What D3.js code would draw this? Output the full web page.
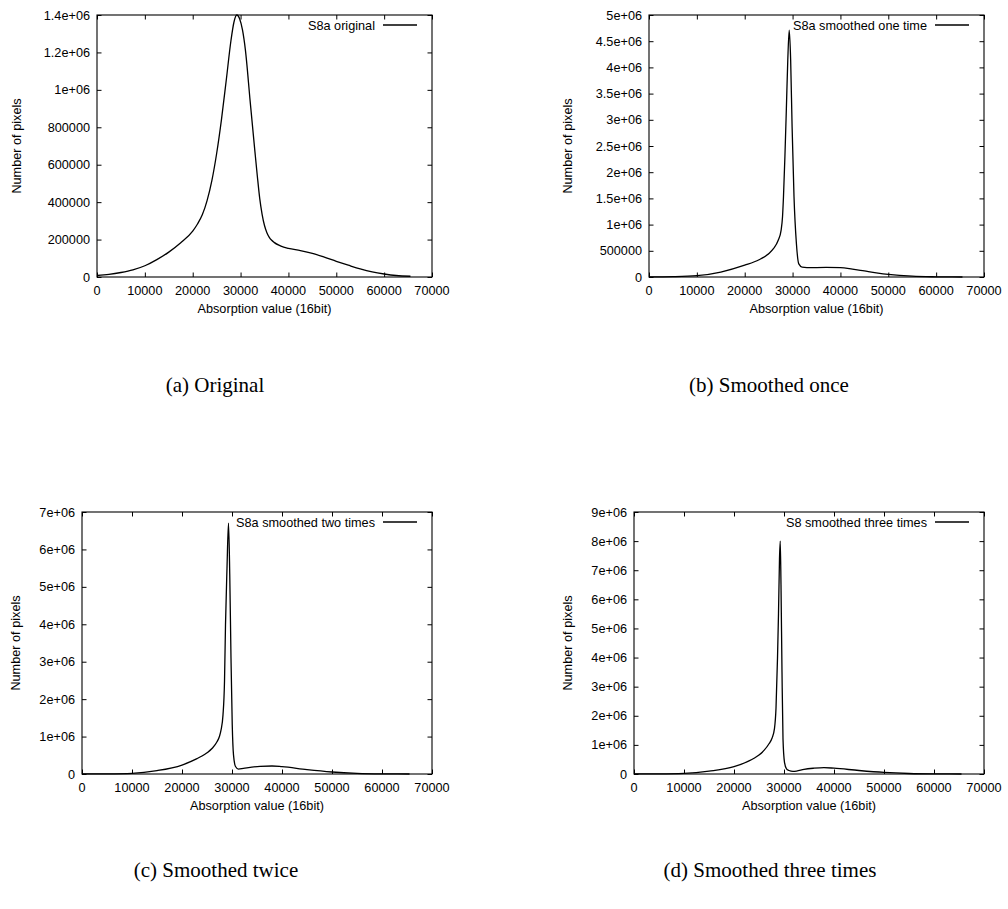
<!DOCTYPE html>
<html><head><meta charset="utf-8">
<script src="https://cdn.jsdelivr.net/npm/d3@7"></script>
<style>body{margin:0;background:#fff}svg{display:block}</style>
</head><body>
<svg id="chart" width="1008" height="909"></svg>
<script>
// ---- tick values / labels ----
const xTickValues = [0,10000,20000,30000,40000,50000,60000,70000];
const xTickLabels = ["0","10000","20000","30000","40000","50000","60000","70000"];
const yTicksA = [0,200000,400000,600000,800000,1000000,1200000,1400000];
const yLabelsA = ["0","200000","400000","600000","800000","1e+06","1.2e+06","1.4e+06"];
const yTicksB = [0,500000,1000000,1500000,2000000,2500000,3000000,3500000,4000000,4500000,5000000];
const yLabelsB = ["0","500000","1e+06","1.5e+06","2e+06","2.5e+06","3e+06","3.5e+06","4e+06","4.5e+06","5e+06"];
const yTicksC = [0,1e6,2e6,3e6,4e6,5e6,6e6,7e6];
const yLabelsC = ["0","1e+06","2e+06","3e+06","4e+06","5e+06","6e+06","7e+06"];
const yTicksD = [0,1e6,2e6,3e6,4e6,5e6,6e6,7e6,8e6,9e6];
const yLabelsD = ["0","1e+06","2e+06","3e+06","4e+06","5e+06","6e+06","7e+06","8e+06","9e+06"];

// ---- series ----
const xOriginal = [0,2500,5000,7500,10000,12500,15000,17500,20000,21000,22000,23000,24000,25000,26000,27000,28000,28600,29200,29800,30400,31000,32000,33000,33500,34000,34500,35000,35500,36000,36500,37000,38000,39000,40000,42500,45000,47500,50000,52500,55000,57500,60000,62500,65500];
const yOriginal = [8000,14000,24000,38000,60000,93000,133000,183000,245000,283000,332000,408000,515000,660000,840000,1050000,1265000,1360000,1400000,1380000,1320000,1215000,940000,670000,540000,420000,335000,275000,237000,212000,196000,185000,170000,160000,153000,141000,126000,106000,84000,63000,43000,27000,16000,8000,4000];

const xOnce = [0,5000,10000,15000,20000,23000,25000,26000,27000,27600,27900,28100,28400,28700,29000,29300,29600,29900,30300,30800,31300,32000,34000,37000,40000,42500,45000,47500,50000,55000,60000,65500];
const yOnce = [3000,8000,25000,95000,225000,330000,445000,540000,700000,890000,1150000,1530000,2300000,3200000,4140000,4710000,4140000,2870000,1530000,640000,250000,190000,180000,182000,178000,150000,115000,80000,50000,15000,4000,0];

const xTwice = [0,5000,10000,15000,20000,23000,24000,25000,26000,27000,27500,27800,28200,28500,28700,29000,29300,29550,29800,30050,30300,30700,31300,32300,35600,38000,40000,45000,50000,55000,60000,65500];
const yTwice = [2000,5000,18000,90000,240000,410000,480000,565000,680000,860000,1010000,1170000,1580000,2470000,3990000,5500000,6700000,5330000,3100000,1310000,510000,200000,130000,150000,205000,214000,196000,116000,54000,18000,4000,0];

const xThrice = [0,5000,10000,15000,20000,23000,24000,25000,26000,27000,27600,28100,28400,28700,28900,29100,29250,29400,29600,29800,30100,30500,31000,31800,32500,34000,36000,38000,40000,45000,50000,55000,60000,65500];
const yThrice = [2000,5000,23000,100000,250000,450000,540000,650000,810000,1040000,1230000,1570000,2260000,3980000,5500000,7400000,8000000,6500000,3500000,1200000,400000,180000,120000,90000,100000,160000,200000,220000,200000,120000,55000,18000,4000,0];

const legendNames = ["S8a original","S8a smoothed one time","S8a smoothed two times","S8 smoothed three times"];
const captions = ["(a) Original","(b) Smoothed once","(c) Smoothed twice","(d) Smoothed three times"];
const xTitle = "Absorption value (16bit)";
const yTitle = "Number of pixels";

// ---- layout ----
const panels = [
  {l:97, t:15, r:432, b:277, yMax:1.4e6, yT:yTicksA, yL:yLabelsA, xs:xOriginal, ys:yOriginal, yTitleX:21, capX:215, capY:392},
  {l:649,t:15, r:984, b:277, yMax:5e6,   yT:yTicksB, yL:yLabelsB, xs:xOnce,     ys:yOnce,     yTitleX:572, capX:769, capY:392},
  {l:82, t:512,r:432, b:774, yMax:7e6,   yT:yTicksC, yL:yLabelsC, xs:xTwice,    ys:yTwice,    yTitleX:20, capX:216, capY:877},
  {l:634,t:512,r:984, b:774, yMax:9e6,   yT:yTicksD, yL:yLabelsD, xs:xThrice,   ys:yThrice,   yTitleX:572, capX:770, capY:877}
];

const svg = d3.select("#chart");
svg.append("rect").attr("width",1008).attr("height",909).attr("fill","#fff");
const SANS = "'Liberation Sans', Arial, Helvetica, sans-serif";
const FS = 12.7;
const TL = 4.5;

panels.forEach((p,i)=>{
  const x = d3.scaleLinear().domain([0,70000]).range([p.l,p.r]);
  const y = d3.scaleLinear().domain([0,p.yMax]).range([p.b,p.t]);
  const g = svg.append("g");

  const axB = d3.axisBottom(x).tickValues(xTickValues).tickSize(-TL).tickFormat("");
  const axT = d3.axisTop(x).tickValues(xTickValues).tickSize(-TL).tickFormat("");
  const axL = d3.axisLeft(y).tickValues(p.yT).tickSize(-TL).tickFormat("");
  const axR = d3.axisRight(y).tickValues(p.yT).tickSize(-TL).tickFormat("");
  [[axB,`translate(0,${p.b})`],[axT,`translate(0,${p.t})`],[axL,`translate(${p.l},0)`],[axR,`translate(${p.r},0)`]].forEach(([ax,tr])=>{
    const a = g.append("g").attr("transform",tr).call(ax);
    a.select(".domain").remove();
    a.selectAll("line").attr("stroke","#000").attr("stroke-width",1);
  });

  g.append("g").selectAll("text").data(xTickValues).join("text")
    .attr("x",d=>x(d)).attr("y",p.b+17.5).attr("text-anchor","middle")
    .attr("font-family",SANS).attr("font-size",FS).attr("fill","#000")
    .text((d,k)=>xTickLabels[k]);
  g.append("g").selectAll("text").data(p.yT).join("text")
    .attr("x",p.l-7).attr("y",d=>y(d)).attr("dy","0.36em").attr("text-anchor","end")
    .attr("font-family",SANS).attr("font-size",FS).attr("fill","#000")
    .text((d,k)=>p.yL[k]);

  g.append("rect").attr("x",p.l).attr("y",p.t).attr("width",p.r-p.l).attr("height",p.b-p.t)
    .attr("fill","none").attr("stroke","#000").attr("stroke-width",1.1);

  const data = p.xs.map((v,k)=>[v,p.ys[k]]);
  g.append("path").datum(data)
    .attr("d",d3.line().x(d=>x(d[0])).y(d=>y(d[1])).curve(d3.curveMonotoneX))
    .attr("fill","none").attr("stroke","#000").attr("stroke-width",1.3).attr("stroke-linejoin","round");

  const ly = p.t+10;
  g.append("text").attr("x",p.r-57).attr("y",ly).attr("dy","0.36em").attr("text-anchor","end")
    .attr("font-family",SANS).attr("font-size",FS).attr("fill","#000").text(legendNames[i]);
  g.append("line").attr("x1",p.r-49).attr("x2",p.r-15).attr("y1",ly).attr("y2",ly)
    .attr("stroke","#000").attr("stroke-width",1.3);

  g.append("text").attr("x",(p.l+p.r)/2).attr("y",p.b+35.5).attr("text-anchor","middle")
    .attr("font-family",SANS).attr("font-size",FS).attr("fill","#000").text(xTitle);
  g.append("text").attr("transform",`translate(${p.yTitleX},${(p.t+p.b)/2}) rotate(-90)`)
    .attr("text-anchor","middle").attr("font-family",SANS).attr("font-size",FS).attr("fill","#000").text(yTitle);

  svg.append("text").attr("x",p.capX).attr("y",p.capY).attr("text-anchor","middle")
    .attr("font-family","'Liberation Serif','Times New Roman',serif").attr("font-size",21).attr("fill","#000")
    .text(captions[i]);
});
</script>
</body></html>
